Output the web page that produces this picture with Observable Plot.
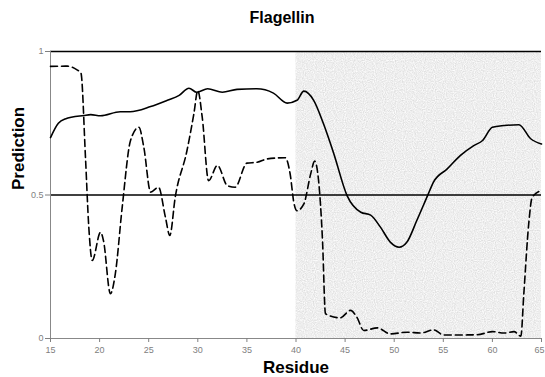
<!DOCTYPE html>
<html>
<head>
<meta charset="utf-8">
<script src="https://cdn.jsdelivr.net/npm/d3@7"></script>
<script src="https://cdn.jsdelivr.net/npm/@observablehq/plot@0.6"></script>
<style>
  html, body { margin: 0; padding: 0; background: #fff; }
  body { font-family: "Liberation Sans", Arial, sans-serif; width: 545px; height: 377px; overflow: hidden; }
  #title { width: 545px; box-sizing: border-box; padding-left: 19px; height: 36px; line-height: 36px;
           text-align: center; font-weight: bold; font-size: 16px; color: #000; }
  svg { display: block; }
</style>
</head>
<body>
<div id="title">Flagellin</div>
<div id="chart"></div>
<script>
// Solid curve
const solidResidue = [15.0, 15.8, 16.5, 18.4, 19.1, 20.1, 22.1, 23.1, 25.2, 26.9, 28.1, 29.1, 29.9, 31.0, 32.5, 34.0, 36.0, 37.7, 39.1, 40.1, 40.8, 41.8, 42.8, 43.85, 45.2, 46.6, 47.6, 48.6, 49.6, 50.5, 51.3, 52.3, 53.4, 54.0, 55.4, 56.75, 58.1, 59.0, 60.0, 61.2, 62.7, 63.9, 65.0];
const solidValue   = [0.70, 0.75, 0.765, 0.777, 0.78, 0.776, 0.79, 0.79, 0.808, 0.83, 0.847, 0.872, 0.858, 0.87, 0.858, 0.868, 0.87, 0.855, 0.82, 0.83, 0.862, 0.83, 0.748, 0.644, 0.498, 0.44, 0.43, 0.388, 0.336, 0.318, 0.336, 0.411, 0.498, 0.545, 0.591, 0.638, 0.672, 0.69, 0.736, 0.742, 0.745, 0.696, 0.678];

// Dashed curve
const dashedResidue = [15.0, 16.7, 17.7, 18.1, 18.56, 18.9, 19.25, 20.1, 20.4, 21.1, 21.6, 22.3, 23.15, 24.0, 24.5, 25.2, 26.0, 26.7, 27.15, 27.7, 28.9, 29.6, 30.0, 30.45, 31.1, 32.0, 33.0, 33.8, 35.0, 36.05, 37.1, 38.9, 39.4, 39.8, 40.1, 40.8, 41.5, 41.9, 42.3, 42.7, 43.0, 44.5, 45.55, 46.2, 46.9, 48.3, 49.6, 51.3, 52.7, 54.0, 55.05, 58.45, 60.0, 61.2, 62.2, 62.9, 63.2, 63.7, 64.05, 65.0];
const dashedValue   = [0.948, 0.949, 0.936, 0.925, 0.632, 0.388, 0.272, 0.37, 0.34, 0.156, 0.225, 0.457, 0.69, 0.736, 0.667, 0.51, 0.527, 0.423, 0.359, 0.492, 0.655, 0.783, 0.864, 0.771, 0.55, 0.603, 0.533, 0.527, 0.611, 0.614, 0.626, 0.63, 0.574, 0.47, 0.445, 0.469, 0.574, 0.618, 0.55, 0.341, 0.086, 0.072, 0.098, 0.074, 0.028, 0.037, 0.016, 0.022, 0.019, 0.03, 0.012, 0.013, 0.024, 0.019, 0.024, 0.008, 0.156, 0.4, 0.492, 0.516];

// Shaded region
const shadeStart = [40];
const shadeEnd = [65];

// Ticks / labels
const xTicks = [15, 20, 25, 30, 35, 40, 45, 50, 55, 60, 65];
const yTicks = [0, 0.5, 1];
const gridValues = [0.5, 1];
const xLabel = "Residue";
const yLabel = "Prediction";

const solid = solidResidue.map((r, i) => ({residue: r, value: solidValue[i]}));
const dashed = dashedResidue.map((r, i) => ({residue: r, value: dashedValue[i]}));
const shade = shadeStart.map((s, i) => ({x1: s, x2: shadeEnd[i]}));
const lastTick = xTicks[xTicks.length - 1];

const plot = Plot.plot({
  width: 545,
  height: 341,
  marginLeft: 50,
  marginRight: 4,
  marginTop: 15,
  marginBottom: 39,
  style: {fontFamily: '"Liberation Sans", Arial, sans-serif', background: "#fff"},
  x: {domain: [15, 65]},
  y: {domain: [0, 1]},
  marks: [
    Plot.rectY(shade, {x1: "x1", x2: "x2", y1: 0, y2: 1, fill: "#d9d9d9"}),
    Plot.ruleY(gridValues, {stroke: "#000", strokeWidth: 1.6}),
    Plot.ruleY([0], {stroke: "#888", strokeWidth: 1}),
    Plot.ruleX([15], {stroke: "#888", strokeWidth: 1}),
    Plot.axisX({ticks: xTicks, tickSize: 4, text: null, stroke: "#808080"}),
    Plot.axisX({ticks: xTicks.slice(0, -1), tickSize: 0, tickPadding: 8, fill: "#808080", fontSize: 9, label: null, tickFormat: d => String(d)}),
    Plot.axisX({ticks: [lastTick], tickSize: 0, tickPadding: 8, dx: -2, fill: "#808080", fontSize: 9, label: null, tickFormat: d => String(d)}),
    Plot.axisY({ticks: yTicks, tickSize: 5, tickPadding: 2, color: "#808080", fontSize: 9, label: null, tickFormat: d => String(d)}),
    Plot.line(solid, {x: "residue", y: "value", stroke: "#000", strokeWidth: 1.6, curve: "monotone-x"}),
    Plot.line(dashed, {x: "residue", y: "value", stroke: "#000", strokeWidth: 1.6, strokeDasharray: "7,4", curve: "monotone-x"}),
    Plot.text([xLabel], {frameAnchor: "bottom", dy: 29, lineAnchor: "middle", fontSize: 17, fontWeight: "bold", fill: "#000"}),
    Plot.text([yLabel], {frameAnchor: "left", dx: -32, dy: -5, rotate: -90, fontSize: 17, fontWeight: "bold", fill: "#000"})
  ]
});

// add a grainy texture to the shaded region
const svg = d3.select(plot);
const defs = svg.insert("defs", ":first-child");
const f = defs.append("filter").attr("id", "grain").attr("x", 0).attr("y", 0).attr("width", 1).attr("height", 1);
f.append("feTurbulence").attr("type", "fractalNoise").attr("baseFrequency", 0.9).attr("numOctaves", 1).attr("seed", 4).attr("result", "t");
f.append("feColorMatrix").attr("in", "t").attr("type", "matrix")
  .attr("values", "0.45 0 0 0 0.63  0.45 0 0 0 0.63  0.45 0 0 0 0.63  0 0 0 0 1").attr("result", "g");
f.append("feComposite").attr("in", "g").attr("in2", "SourceGraphic").attr("operator", "in");
svg.selectAll("g[aria-label='rect'] rect").attr("filter", "url(#grain)");

document.getElementById("chart").appendChild(plot);
</script>
</body>
</html>
